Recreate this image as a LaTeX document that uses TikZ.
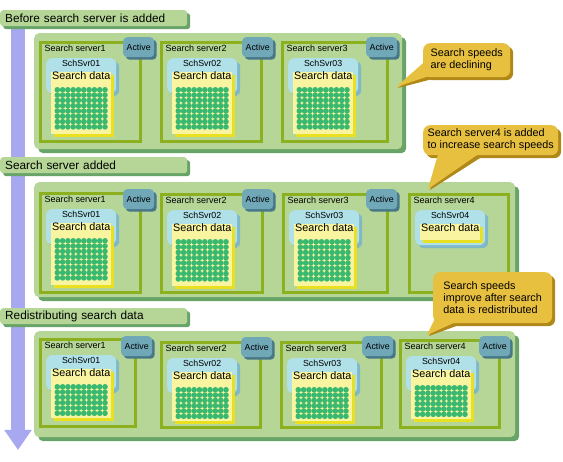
\documentclass[tikz,border=0pt]{standalone}
\usepackage{fontspec}
\setmainfont{Liberation Sans}
\usetikzlibrary{shadows,arrows.meta}
\pgfdeclarelayer{callsh}
\pgfdeclarelayer{callfg}
\pgfsetlayers{main,callsh,callfg}

\definecolor{pgreen}{RGB}{181,214,151}
\definecolor{pshadow}{RGB}{104,164,104}
\definecolor{olivec}{RGB}{140,176,30}
\definecolor{tagc}{RGB}{112,168,184}
\definecolor{tagsh}{RGB}{72,120,136}
\definecolor{bluec}{RGB}{176,224,232}
\definecolor{bluesh}{RGB}{128,184,200}
\definecolor{sheetc}{RGB}{248,244,160}
\definecolor{sheetsh}{RGB}{232,224,32}
\definecolor{dotc}{RGB}{56,184,112}
\definecolor{callc}{RGB}{232,192,64}
\definecolor{callshc}{RGB}{176,136,24}
\definecolor{lav}{RGB}{168,168,240}

\tikzset{
 panelbox/.style={fill=pgreen, rounded corners=5pt, inner sep=0pt, anchor=north west,
   drop shadow={shadow xshift=4pt,shadow yshift=-4pt,fill=pshadow,opacity=1}},
 headbox/.style={fill=pgreen, rounded corners=3pt, anchor=north west, text width=177pt,
   inner xsep=5pt, inner ysep=0pt, minimum height=16pt, align=left,
   font=\fontsize{11.8}{13}\selectfont,
   drop shadow={shadow xshift=3pt,shadow yshift=-3pt,fill=pshadow,opacity=1}},
 srvbox/.style={draw=olivec, line width=3pt, fill=pgreen, inner sep=0pt, anchor=north west},
 srvlabel/.style={font=\fontsize{9}{10}\selectfont, inner sep=0pt, anchor=west},
 actbox/.style={fill=tagc, rounded corners=4pt, minimum width=31pt, minimum height=20pt,
   inner sep=0pt, anchor=north west, font=\fontsize{8.8}{10}\selectfont,
   drop shadow={shadow xshift=2.5pt,shadow yshift=-2.5pt,fill=tagsh,opacity=1}},
 bluebox/.style={fill=bluec, rounded corners=6pt, minimum width=70pt, minimum height=35pt,
   inner sep=0pt, anchor=north west,
   drop shadow={shadow xshift=3pt,shadow yshift=-3pt,fill=bluesh,opacity=1}},
 sheetbox/.style={fill=sheetc, minimum width=60pt, inner sep=0pt, anchor=north west,
   drop shadow={shadow xshift=3pt,shadow yshift=-2.5pt,fill=sheetsh,opacity=1}},
 svrtext/.style={font=\fontsize{8.8}{10}\selectfont, inner sep=0pt, anchor=north},
 datatext/.style={font=\fontsize{10.8}{12}\selectfont, inner sep=0pt, anchor=north},
 callbox/.style={fill=callc, rounded corners=7pt, inner sep=0pt, anchor=north west,
   align=left, font=\fontsize{10.8}{12}\selectfont,
   drop shadow={shadow xshift=3pt,shadow yshift=-3pt,fill=callshc,opacity=1}},
 dotfill/.style={fill=dotc},
 bigarrow/.style={line width=14pt, lav, -{Triangle[width=26pt,length=20pt]}}
}

% #1 name, #2 x, #3 y, #4 w, #5 h, #6 label, #7 server id, #8 rows, #9 sheet height
\newcommand\server[9]{%
 \node[srvbox, minimum width={(#4-3)*1pt}, minimum height={(#5-3)*1pt}] (#1) at ({#2+1.5},{#3+1.5}) {};
 \node[srvlabel] (#1-lbl) at ({#2+7.5},{#3+8.5}) {#6};
 \node[bluebox] (#1-blue) at ({#2+9},{#3+18}) {};
 \node[svrtext] (#1-name) at ([yshift=-2pt]#1-blue.north) {#7};
 \node[sheetbox, minimum height=#9pt] (#1-sheet) at ({#2+14},{#3+32}) {};
 \node[datatext] (#1-data) at ([yshift=0.5pt]#1-sheet.north) {Search data};
 \ifnum#8>0
  \foreach \i in {0,...,9}{\foreach \j in {1,...,#8}{%
   \fill[dotfill] ({#2+14+3.5+2.8+\i*5.3},{#3+32+15+2.8+(\j-1)*5.3}) circle (2.8pt);}}
 \fi
}

\begin{document}
\begin{tikzpicture}[x=1pt,y=-1pt]
\useasboundingbox (0,0) rectangle (563,462);
\fill[white] (0,0) rectangle (563,462);

% vertical time arrow
\coordinate (arrtop) at (18,24);
\coordinate (arrbot) at (18,450);
\draw[bigarrow] (arrtop) -- (arrbot);

% headers
\node[headbox] (h1) at (0,10) {Before search server is added};
\node[headbox] (h2) at (0,157) {Search server added};
\node[headbox] (h3) at (0,308) {Redistributing search data};

% panels
\node[panelbox, minimum width=368pt, minimum height=116pt] (p1) at (34,33) {};
\node[panelbox, minimum width=481pt, minimum height=115pt] (p2) at (34,182) {};
\node[panelbox, minimum width=481pt, minimum height=106pt] (p3) at (34,331) {};

% panel 1
\server{p1s1}{37}{40}{103}{102}{Search server1}{SchSvr01}{8}{62}
\server{p1s2}{158}{40}{103}{102}{Search server2}{SchSvr02}{8}{62}
\server{p1s3}{279}{40}{108}{102}{Search server3}{SchSvr03}{8}{62}
\node[actbox] (p1s1-act) at (123,37) {Active};
\node[actbox] (p1s2-act) at (242,37) {Active};
\node[actbox] (p1s3-act) at (366,37) {Active};

% panel 2
\server{p2s1}{37}{191}{103}{102}{Search server1}{SchSvr01}{8}{62}
\server{p2s2}{158}{192}{104}{101}{Search server2}{SchSvr02}{8}{62}
\server{p2s3}{280}{192}{107}{101}{Search server3}{SchSvr03}{8}{62}
\server{p2s4}{406}{192}{102}{101}{Search server4}{SchSvr04}{0}{16}
\node[actbox] (p2s1-act) at (123,189) {Active};
\node[actbox] (p2s2-act) at (242,189) {Active};
\node[actbox] (p2s3-act) at (366,189) {Active};

% panel 3
\server{p3s1}{37}{337}{98}{90}{Search server1}{SchSvr01}{6}{49}
\server{p3s2}{158}{340}{102}{88}{Search server2}{SchSvr02}{6}{49}
\server{p3s3}{278}{340}{103}{88}{Search server3}{SchSvr03}{6}{49}
\server{p3s4}{397}{338}{102}{90}{Search server4}{SchSvr04}{6}{49}
\node[actbox] (p3s1-act) at (121,336) {Active};
\node[actbox] (p3s2-act) at (241,337) {Active};
\node[actbox] (p3s3-act) at (362,336) {Active};
\node[actbox] (p3s4-act) at (479,336) {Active};

% callouts
\begin{pgfonlayer}{callfg}
\node[callbox, minimum width=87pt, minimum height=34pt] (c1) at (423,43) {Search speeds\\are declining};
\coordinate (c1tip) at (396,87);
\fill[callc] ([yshift=-3pt]c1.west) -- (c1tip) -- ([shift={(5pt,1pt)}]c1.south west) -- cycle;

\node[callbox, minimum width=135pt, minimum height=30pt] (c2) at (423,125) {Search server4 is added\\to increase search speeds};
\coordinate (c2tip) at (428,189);
\fill[callc] ([shift={(15pt,1pt)}]c2.south west) -- (c2tip) -- ([shift={(55pt,1pt)}]c2.south west) -- cycle;

\node[callbox, minimum width=119pt, minimum height=51pt] (c3) at (433,272) {Search speeds\\improve after search\\data is redistributed};
\coordinate (c3tip) at (427,335);
\fill[callc] ([shift={(2pt,5pt)}]c3.south west) -- (c3tip) -- ([shift={(22pt,1pt)}]c3.south west) -- cycle;
\end{pgfonlayer}

\begin{pgfonlayer}{callsh}
\fill[callshc] ([shift={(3pt,-6pt)}]c1.west) -- ([shift={(2pt,-1pt)}]c1tip) -- ([shift={(8pt,-2pt)}]c1.south west) -- cycle;
\fill[callshc] ([shift={(18pt,-2pt)}]c2.south west) -- ([shift={(2pt,-1pt)}]c2tip) -- ([shift={(58pt,-2pt)}]c2.south west) -- cycle;
\fill[callshc] ([shift={(5pt,2pt)}]c3.south west) -- ([shift={(2pt,-1pt)}]c3tip) -- ([shift={(25pt,-2pt)}]c3.south west) -- cycle;
\end{pgfonlayer}
\end{tikzpicture}
\end{document}
